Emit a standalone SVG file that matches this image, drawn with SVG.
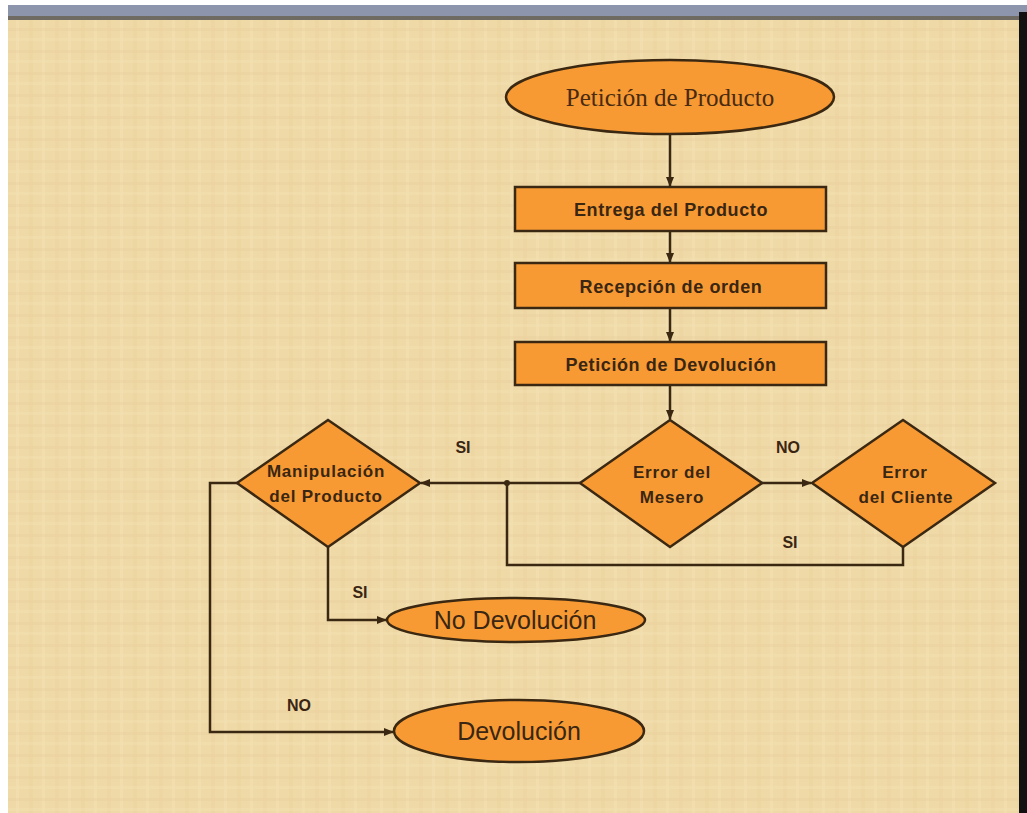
<svg xmlns="http://www.w3.org/2000/svg" width="1027" height="813" viewBox="0 0 1027 813">
  <style>
    .node { fill: #f79a34; stroke: #3b2812; stroke-width: 2.5; }
    .wire { fill: none; stroke: #3b2812; stroke-width: 2.5; }
    .lbl { font-family: "Liberation Sans", Arial, sans-serif; font-weight: bold; fill: #3a2612; text-anchor: middle; }
    .box { font-size: 18px; letter-spacing: 0.6px; }
    .dia { font-size: 17px; letter-spacing: 0.8px; }
    .tag { font-size: 16px; }
    .big { font-family: "Liberation Sans", Arial, sans-serif; fill: #3a2612; text-anchor: middle; font-size: 25px; }
    .serif { font-family: "Liberation Serif", "Times New Roman", serif; fill: #4a2a10; text-anchor: middle; }
  </style>
  <defs>
    <marker id="arrow" viewBox="0 0 10 10" refX="9" refY="5" markerWidth="4" markerHeight="4" orient="auto" markerUnits="strokeWidth">
      <path d="M0,1 L10,5 L0,9 z" fill="#3b2812"/>
    </marker>
    <!-- woven paper texture -->
    <pattern id="paper" width="26" height="22" patternUnits="userSpaceOnUse">
      <rect width="26" height="22" fill="#efd9a7"/>
      <rect x="3" width="4" height="22" fill="#e9d09b" opacity="0.35"/>
      <rect x="16" width="3" height="22" fill="#f4e3b8" opacity="0.4"/>
      <rect y="6" width="26" height="3" fill="#e8cf9a" opacity="0.3"/>
      <rect y="16" width="26" height="3" fill="#f3e1b4" opacity="0.35"/>
    </pattern>
  </defs>

  <!-- page frame -->
  <rect width="1027" height="813" fill="#ffffff"/>
  <rect x="8" y="5" width="1019" height="12" fill="#8d95ad"/>
  <rect x="8" y="16" width="1012" height="4" fill="#6f6b62"/>
  <rect x="8" y="20" width="1012" height="793" fill="url(#paper)"/>
  <rect x="1019" y="12" width="8" height="801" fill="#111111"/>

  <!-- connectors -->
  <g id="connectors">
    <line class="wire" x1="670" y1="135" x2="670" y2="186" marker-end="url(#arrow)"/>
    <line class="wire" x1="670" y1="231" x2="670" y2="262" marker-end="url(#arrow)"/>
    <line class="wire" x1="670" y1="308" x2="670" y2="341" marker-end="url(#arrow)"/>
    <line class="wire" x1="670" y1="385" x2="670" y2="419" marker-end="url(#arrow)"/>
    <line class="wire" x1="580" y1="483" x2="421" y2="483" marker-end="url(#arrow)"/>
    <line class="wire" x1="762" y1="483" x2="811" y2="483" marker-end="url(#arrow)"/>
    <polyline class="wire" points="903,547 903,565 507,565 507,483"/>
    <circle cx="507" cy="483" r="3" fill="#3b2812"/>
    <polyline class="wire" points="328,547 328,620 386,620" marker-end="url(#arrow)"/>
    <polyline class="wire" points="237,483 210,483 210,732 393,732" marker-end="url(#arrow)"/>
    <text class="lbl tag" x="463" y="453">SI</text>
    <text class="lbl tag" x="788" y="453">NO</text>
    <text class="lbl tag" x="790" y="548">SI</text>
    <text class="lbl tag" x="360" y="598">SI</text>
    <text class="lbl tag" x="299" y="711">NO</text>
  </g>

  <g id="peticion-producto">
    <ellipse class="node" cx="670" cy="97" rx="164" ry="37"/>
    <text class="serif" x="670" y="106" font-size="25">Petición de Producto</text>
  </g>
  <g id="entrega-producto">
    <rect class="node" x="515" y="187" width="311" height="44"/>
    <text class="lbl box" x="671" y="216">Entrega del Producto</text>
  </g>
  <g id="recepcion-orden">
    <rect class="node" x="515" y="263" width="311" height="45"/>
    <text class="lbl box" x="671" y="293">Recepción de orden</text>
  </g>
  <g id="peticion-devolucion">
    <rect class="node" x="515" y="342" width="311" height="43"/>
    <text class="lbl box" x="671" y="371">Petición de Devolución</text>
  </g>
  <g id="error-mesero">
    <polygon class="node" points="670,420 762,483 670,547 580,483"/>
    <text class="lbl dia" x="672" y="478">Error del</text>
    <text class="lbl dia" x="672" y="503">Mesero</text>
  </g>
  <g id="error-cliente">
    <polygon class="node" points="903,420 995,483 903,547 812,483"/>
    <text class="lbl dia" x="905" y="478">Error</text>
    <text class="lbl dia" x="906" y="503">del Cliente</text>
  </g>
  <g id="manipulacion-producto">
    <polygon class="node" points="328,420 420,483 328,547 237,483"/>
    <text class="lbl dia" x="326" y="477">Manipulación</text>
    <text class="lbl dia" x="326" y="502">del Producto</text>
  </g>
  <g id="no-devolucion">
    <ellipse class="node" cx="516" cy="620" rx="129" ry="22"/>
    <text class="big" x="515" y="629">No Devolución</text>
  </g>
  <g id="devolucion">
    <ellipse class="node" cx="519" cy="731" rx="125" ry="31"/>
    <text class="big" x="519" y="740">Devolución</text>
  </g>
</svg>
